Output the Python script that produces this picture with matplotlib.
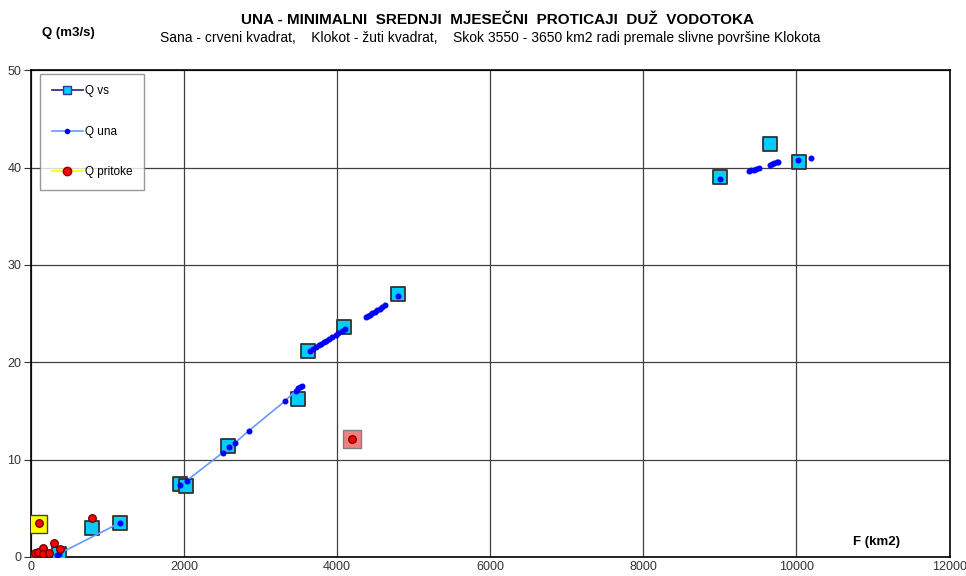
import matplotlib.pyplot as plt
import numpy as np
from matplotlib.lines import Line2D

plt.rcParams['font.family'] = ['Liberation Sans', 'DejaVu Sans']

# Q vs - measured stations (km2, m3/s)
F_vs = [370, 800, 1160, 1950, 2030, 2580, 3490, 3620, 4090, 4800, 9000, 9660, 10030]
Q_vs = [0.3, 3.0, 3.5, 7.5, 7.3, 11.4, 16.2, 21.2, 23.6, 27.0, 39.0, 42.4, 40.6]

# Q una - computed along the river (nan = break in the line)
F_una = [340, 370, 1160, np.nan,
         1945, 2033, 2503, 2585, 2663, 2846, 3316, 3460, 3486, 3521, 3547, np.nan,
         3642, 3690, 3730, 3760, 3795, 3830, 3860, 3900, 3938, 3980, 4016, 4060, 4099, np.nan,
         4382, 4405, 4426, 4460, 4491, 4525, 4556, 4590, 4621, np.nan, 4795, np.nan,
         8995, np.nan, 9378, 9410, 9439, 9475, 9508, np.nan,
         9656, 9685, 9713, 9740, 9765, np.nan, 10017, np.nan, 10191]
Q_una = [0.2, 0.35, 3.5, np.nan,
         7.39, 7.83, 10.7, 11.3, 11.7, 12.97, 16.0, 17.1, 17.35, 17.5, 17.6, np.nan,
         21.15, 21.4, 21.6, 21.75, 21.9, 22.05, 22.2, 22.4, 22.6, 22.8, 22.97, 23.2, 23.4, np.nan,
         24.7, 24.8, 24.9, 25.05, 25.2, 25.35, 25.5, 25.7, 25.9, np.nan, 26.8, np.nan,
         38.8, np.nan, 39.66, 39.73, 39.8, 39.9, 40.0, np.nan,
         40.3, 40.4, 40.5, 40.55, 40.6, np.nan, 40.8, np.nan, 41.0]

# Q pritoke - tributaries
F_pr = [17, 52, 95, 104, 153, 161, 239, 304, 379, 792, 4190]
Q_pr = [0.05, 0.38, 0.48, 3.5, 0.9, 0.28, 0.38, 1.4, 0.8, 4.0, 12.1]

# highlighted tributaries
F_klokot, Q_klokot = 91, 3.35
F_sana, Q_sana = 4190, 12.1

fig = plt.figure(figsize=(9.66, 5.76), dpi=100)
ax = fig.add_axes([0.032, 0.033, 0.951, 0.845])

ax.scatter([F_klokot], [Q_klokot], marker='s', s=150, c='#ffff00', edgecolors='#404040', linewidths=1.0, zorder=3)
ax.scatter([F_sana], [Q_sana], marker='s', s=150, c='#f08080', edgecolors='#808080', linewidths=1.0, zorder=3)
ax.scatter(F_vs, Q_vs, marker='s', s=110, c='#00ccff', edgecolors='#333333', linewidths=1.3, zorder=3)

ax.plot(F_una, Q_una, color='#6699ff', lw=1.2, marker='o', ms=3.3, mfc='#0000ff', mec='#0000ff', zorder=4)

ax.scatter(F_pr, Q_pr, marker='o', s=30, c='#ff0000', edgecolors='#660000', linewidths=0.9, zorder=5)

ax.set_xlim(0, 12000)
ax.set_ylim(0, 50)
ax.set_xticks(np.arange(0, 12001, 2000))
ax.set_yticks(np.arange(0, 51, 10))
ax.grid(True, color='#404040', lw=0.9)
ax.set_axisbelow(True)
for s in ax.spines.values():
    s.set_color('black')
    s.set_linewidth(1.2)
ax.tick_params(axis='x', length=0, labelsize=9, colors='#333333', pad=3)
ax.tick_params(axis='y', length=5, labelsize=9, colors='#333333', direction='out', pad=2, width=0.8)

fig.text(0.515, 0.958, 'UNA - MINIMALNI  SREDNJI  MJESEČNI  PROTICAJI  DUŽ  VODOTOKA',
         ha='center', fontsize=11, fontweight='bold')
fig.text(0.508, 0.927, 'Sana - crveni kvadrat,    Klokot - žuti kvadrat,    Skok 3550 - 3650 km2 radi premale slivne površine Klokota',
         ha='center', fontsize=10)
fig.text(0.043, 0.943, 'Q (m3/s)', fontsize=9.5, fontweight='bold', va='center')
ax.text(11350, 1.2, 'F (km2)', fontsize=9.5, fontweight='bold', ha='right')

handles = [
    Line2D([], [], color='#333399', lw=1.3, marker='s', ms=6, mfc='#00ccff', mec='#333399'),
    Line2D([], [], color='#6699ff', lw=1.2, marker='o', ms=3, mfc='#0000ff', mec='#0000ff'),
    Line2D([], [], color='#ffff00', lw=1.2, marker='o', ms=6, mfc='#ff0000', mec='#880000'),
]
leg = ax.legend(handles, ['Q vs', 'Q una', 'Q pritoke'], loc='upper left',
                bbox_to_anchor=(0.01, 0.993), fontsize=8.5, frameon=True, fancybox=False,
                edgecolor='#808080', labelspacing=2.4, handlelength=2.6, handletextpad=0.2,
                borderpad=1.0, borderaxespad=0.0)
leg.get_frame().set_linewidth(1.0)
leg.set_zorder(10)

fig.savefig('out.png', dpi=100)
